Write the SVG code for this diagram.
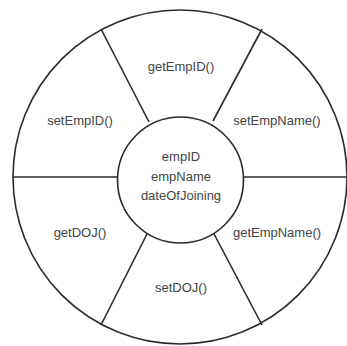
<svg xmlns="http://www.w3.org/2000/svg" width="347" height="346" viewBox="0 0 347 346">
  <style>
    .ring { fill: #ffffff; stroke: #2a2a2a; stroke-width: 1.6; }
    .spoke { stroke: #2a2a2a; stroke-width: 1.6; fill: none; }
    .lbl { font-family: "Liberation Sans", Arial, sans-serif; font-size: 13px; fill: #444444; text-anchor: middle; }
  </style>
  <rect width="347" height="346" fill="#ffffff"/>
  <g id="outer-ring">
    <circle class="ring" cx="180" cy="177" r="167"/>
  </g>
  <g id="connectors">
    <line class="spoke" x1="13" y1="177" x2="117" y2="177" stroke-width="2"/>
    <line class="spoke" x1="244" y1="177" x2="347" y2="177" stroke-width="2"/>
    <line class="spoke" x1="101" y1="29" x2="149" y2="122"/>
    <line class="spoke" x1="262" y1="29" x2="213" y2="121"/>
    <line class="spoke" x1="148" y1="232" x2="101" y2="325"/>
    <line class="spoke" x1="213" y1="232" x2="262" y2="325"/>
  </g>
  <g id="core">
    <circle class="ring" cx="180.5" cy="180" r="63"/>
    <text class="lbl" x="181" y="161">empID</text>
    <text class="lbl" x="181" y="180.5">empName</text>
    <text class="lbl" x="181" y="200">dateOfJoining</text>
  </g>
  <g id="getEmpID">
    <text class="lbl" x="181" y="71">getEmpID()</text>
  </g>
  <g id="setEmpName">
    <text class="lbl" x="277" y="125">setEmpName()</text>
  </g>
  <g id="getEmpName">
    <text class="lbl" x="277" y="237">getEmpName()</text>
  </g>
  <g id="setDOJ">
    <text class="lbl" x="181" y="292">setDOJ()</text>
  </g>
  <g id="getDOJ">
    <text class="lbl" x="80" y="237">getDOJ()</text>
  </g>
  <g id="setEmpID">
    <text class="lbl" x="80" y="125">setEmpID()</text>
  </g>
</svg>
